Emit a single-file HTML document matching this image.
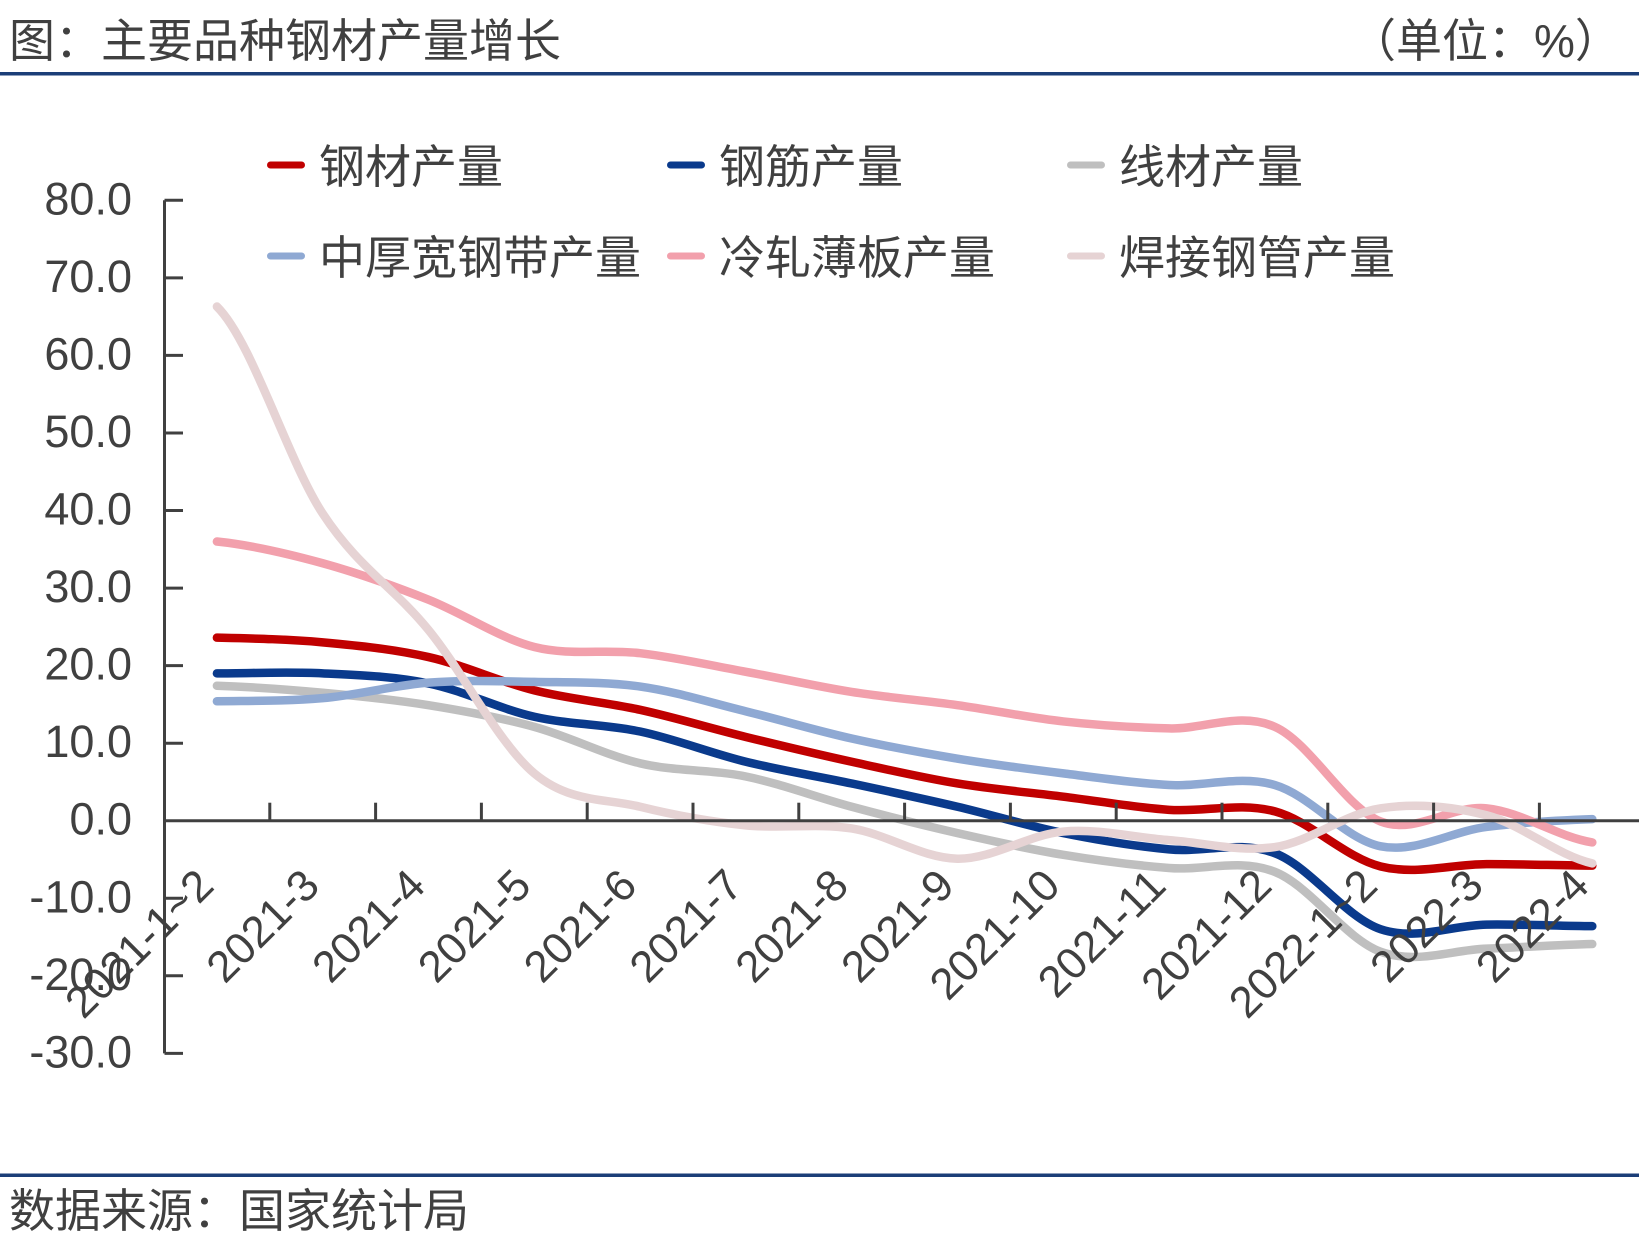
<!DOCTYPE html>
<html>
<head>
<meta charset="utf-8">
<style>
html,body{margin:0;padding:0;background:#fff;}
svg{display:block;}
text{font-family:"Liberation Sans","Noto Sans CJK SC",sans-serif;fill:#404040;}
</style>
</head>
<body>
<svg width="1639" height="1251" viewBox="0 0 1639 1251" xmlns="http://www.w3.org/2000/svg">
<rect x="0" y="0" width="1639" height="1251" fill="#fff"/>
<!-- header -->
<text x="9" y="57" font-size="46">图：主要品种钢材产量增长</text>
<text x="1350" y="57" font-size="46">（单位：%）</text>
<rect x="0" y="72" width="1639" height="3.5" fill="#1B3E78"/>
<!-- footer -->
<rect x="0" y="1173.5" width="1639" height="3.5" fill="#1B3E78"/>
<text x="9" y="1227" font-size="46">数据来源：国家统计局</text>

<!-- legend -->
<g stroke-width="7" stroke-linecap="round">
<line x1="270.5" y1="165" x2="301.5" y2="165" stroke="#C00000"/>
<line x1="670.5" y1="165" x2="701.5" y2="165" stroke="#0A3A8C"/>
<line x1="1070.5" y1="165" x2="1101.5" y2="165" stroke="#BFBFBF"/>
<line x1="270.5" y1="256" x2="301.5" y2="256" stroke="#8FA9D3"/>
<line x1="670.5" y1="256" x2="701.5" y2="256" stroke="#F2A0AC"/>
<line x1="1070.5" y1="256" x2="1101.5" y2="256" stroke="#E6D3D4"/>
</g>
<g font-size="46">
<text x="319" y="183">钢材产量</text>
<text x="719" y="183">钢筋产量</text>
<text x="1119" y="183">线材产量</text>
<text x="319" y="274">中厚宽钢带产量</text>
<text x="719" y="274">冷轧薄板产量</text>
<text x="1119" y="274">焊接钢管产量</text>
</g>

<!-- y axis -->
<g stroke="#404040" stroke-width="3" fill="none">
<line x1="164.5" y1="200.3" x2="164.5" y2="1053.4"/>
<line x1="164.5" y1="200.3" x2="183" y2="200.3"/>
<line x1="164.5" y1="277.9" x2="183" y2="277.9"/>
<line x1="164.5" y1="355.4" x2="183" y2="355.4"/>
<line x1="164.5" y1="433" x2="183" y2="433"/>
<line x1="164.5" y1="510.5" x2="183" y2="510.5"/>
<line x1="164.5" y1="588.1" x2="183" y2="588.1"/>
<line x1="164.5" y1="665.6" x2="183" y2="665.6"/>
<line x1="164.5" y1="743.2" x2="183" y2="743.2"/>
<line x1="164.5" y1="898.3" x2="183" y2="898.3"/>
<line x1="164.5" y1="975.8" x2="183" y2="975.8"/>
<line x1="164.5" y1="1053.4" x2="183" y2="1053.4"/>
</g>
<g font-size="45" text-anchor="end">
<text x="132" y="214.3">80.0</text>
<text x="132" y="291.9">70.0</text>
<text x="132" y="369.4">60.0</text>
<text x="132" y="447">50.0</text>
<text x="132" y="524.5">40.0</text>
<text x="132" y="602.1">30.0</text>
<text x="132" y="679.6">20.0</text>
<text x="132" y="757.2">10.0</text>
<text x="132" y="834.7">0.0</text>
<text x="132" y="912.3">-10.0</text>
<text x="132" y="989.8">-20.0</text>
<text x="132" y="1067.4">-30.0</text>
</g>

<!-- series -->
<g transform="translate(164,820.7) scale(105.8,-7.755)" fill="none" stroke-width="8.5" stroke-linecap="round" stroke-linejoin="round">
<path vector-effect="non-scaling-stroke" stroke="#C00000" d="M0.5,23.6 C0.8333,23.5 1.1667,23.417 1.5,23 S2.1667,22.133 2.5,21.1 S3.1667,17.933 3.5,16.8 S4.1667,15.3 4.5,14.3 S5.1667,11.917 5.5,10.8 S6.1667,8.6 6.5,7.6 S7.1667,5.55 7.5,4.8 S8.1667,3.667 8.5,3.1 S9.1667,1.717 9.5,1.4 S10.1667,2.417 10.5,1.2 S11.1667,-4.767 11.5,-5.9 S12.1667,-5.617 12.5,-5.6 S13.1667,-5.767 13.5,-5.8"/>
<path vector-effect="non-scaling-stroke" stroke="#0A3A8C" d="M0.5,19 C0.8333,19 1.1667,19.217 1.5,19 S2.1667,18.633 2.5,17.7 S3.1667,14.433 3.5,13.4 S4.1667,12.467 4.5,11.5 S5.1667,8.717 5.5,7.6 S6.1667,5.767 6.5,4.8 S7.1667,2.867 7.5,1.8 S8.1667,-0.683 8.5,-1.6 S9.1667,-3.267 9.5,-3.7 S10.1667,-2.483 10.5,-4.2 S11.1667,-12.467 11.5,-14 S12.1667,-13.467 12.5,-13.4 S13.1667,-13.567 13.5,-13.6"/>
<path vector-effect="non-scaling-stroke" stroke="#BFBFBF" d="M0.5,17.4 C0.8333,17.25 1.1667,16.917 1.5,16.5 S2.1667,15.633 2.5,14.9 S3.1667,13.35 3.5,12.1 S4.1667,8.467 4.5,7.4 S5.1667,6.633 5.5,5.7 S6.1667,3.017 6.5,1.8 S7.1667,-0.567 7.5,-1.6 S8.1667,-3.65 8.5,-4.4 S9.1667,-5.733 9.5,-6.1 S10.1667,-4.8 10.5,-6.6 S11.1667,-15.25 11.5,-16.9 S12.1667,-16.667 12.5,-16.5 S13.1667,-16 13.5,-15.9"/>
<path vector-effect="non-scaling-stroke" stroke="#8FA9D3" d="M0.5,15.4 C0.8333,15.467 1.1667,15.4 1.5,15.8 S2.1667,17.45 2.5,17.8 S3.1667,17.983 3.5,17.9 S4.1667,17.933 4.5,17.3 S5.1667,15.217 5.5,14.1 S6.1667,11.617 6.5,10.6 S7.1667,8.75 7.5,8 S8.1667,6.667 8.5,6.1 S9.1667,4.85 9.5,4.6 S10.1667,5.917 10.5,4.6 S11.1667,-2.4 11.5,-3.3 S12.1667,-1.383 12.5,-0.8 S13.1667,0.033 13.5,0.2"/>
<path vector-effect="non-scaling-stroke" stroke="#F2A0AC" d="M0.5,36 C0.8333,35.533 1.1667,34.45 1.5,33.2 S2.1667,30.3 2.5,28.5 S3.1667,23.55 3.5,22.4 S4.1667,22.133 4.5,21.6 S5.1667,20.033 5.5,19.2 S6.1667,17.317 6.5,16.6 S7.1667,15.533 7.5,14.9 S8.1667,13.3 8.5,12.8 S9.1667,12.017 9.5,11.9 S10.1667,14.1 10.5,12.1 S11.1667,1.65 11.5,-0.1 S12.1667,2.05 12.5,1.6 S13.1667,-2.067 13.5,-2.8"/>
<path vector-effect="non-scaling-stroke" stroke="#E6D3D4" d="M0.5,66.3 C0.8333,61.85 1.1667,46.55 1.5,39.6 S2.1667,30.183 2.5,24.6 S3.1667,9.9 3.5,6.1 S4.1667,2.917 4.5,1.8 S5.1667,-0.133 5.5,-0.6 S6.1667,-0.283 6.5,-1 S7.1667,-4.833 7.5,-4.9 S8.1667,-1.8 8.5,-1.4 S9.1667,-2.167 9.5,-2.5 S10.1667,-4.083 10.5,-3.4 S11.1667,0.917 11.5,1.6 S12.1667,1.883 12.5,0.7 S13.1667,-4.467 13.5,-5.5"/>
</g>

<!-- x axis -->
<g stroke="#404040" stroke-width="3" fill="none">
<line x1="163" y1="820.7" x2="1639" y2="820.7"/>
<line x1="269.8" y1="802.7" x2="269.8" y2="820.7"/>
<line x1="375.6" y1="802.7" x2="375.6" y2="820.7"/>
<line x1="481.4" y1="802.7" x2="481.4" y2="820.7"/>
<line x1="587.2" y1="802.7" x2="587.2" y2="820.7"/>
<line x1="693" y1="802.7" x2="693" y2="820.7"/>
<line x1="798.8" y1="802.7" x2="798.8" y2="820.7"/>
<line x1="904.6" y1="802.7" x2="904.6" y2="820.7"/>
<line x1="1010.4" y1="802.7" x2="1010.4" y2="820.7"/>
<line x1="1116.2" y1="802.7" x2="1116.2" y2="820.7"/>
<line x1="1222" y1="802.7" x2="1222" y2="820.7"/>
<line x1="1327.8" y1="802.7" x2="1327.8" y2="820.7"/>
<line x1="1433.6" y1="802.7" x2="1433.6" y2="820.7"/>
<line x1="1539.4" y1="802.7" x2="1539.4" y2="820.7"/>
</g>
<g font-size="44" text-anchor="end">
<text transform="translate(215.9,888) rotate(-45)">2021-1~2</text>
<text transform="translate(321.7,888) rotate(-45)">2021-3</text>
<text transform="translate(427.5,888) rotate(-45)">2021-4</text>
<text transform="translate(533.3,888) rotate(-45)">2021-5</text>
<text transform="translate(639.1,888) rotate(-45)">2021-6</text>
<text transform="translate(744.9,888) rotate(-45)">2021-7</text>
<text transform="translate(850.7,888) rotate(-45)">2021-8</text>
<text transform="translate(956.5,888) rotate(-45)">2021-9</text>
<text transform="translate(1062.3,888) rotate(-45)">2021-10</text>
<text transform="translate(1168.1,888) rotate(-45)">2021-11</text>
<text transform="translate(1273.9,888) rotate(-45)">2021-12</text>
<text transform="translate(1379.7,888) rotate(-45)">2022-1~2</text>
<text transform="translate(1485.5,888) rotate(-45)">2022-3</text>
<text transform="translate(1591.3,888) rotate(-45)">2022-4</text>
</g>
</svg>
</body>
</html>
